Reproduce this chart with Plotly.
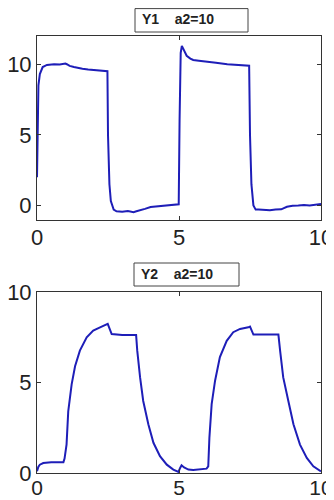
import plotly.graph_objects as go

# ---- data ----
t1 = [0, 0.02, 0.05, 0.1, 0.2, 0.35, 0.6, 0.8, 0.95, 1.0, 1.05, 1.15, 1.3, 1.45, 1.6, 1.8, 2.0, 2.2, 2.35, 2.48,
      2.5, 2.55, 2.6, 2.7, 2.8, 3.0, 3.2, 3.4, 3.5, 3.6, 3.8, 4.0, 4.2, 4.4, 4.6, 4.8, 4.99,
      5.02, 5.06, 5.1, 5.18, 5.27, 5.4, 5.5, 5.7, 6.0, 6.3, 6.7, 7.0, 7.2, 7.47,
      7.5, 7.55, 7.62, 7.7, 7.8, 8.0, 8.2, 8.4, 8.6, 8.8, 9.0, 9.2, 9.4, 9.6, 9.8, 10.0]
y1 = [2.0, 6.0, 8.5, 9.3, 9.8, 9.95, 10.0, 9.98, 10.02, 10.05, 10.0, 9.88, 9.8, 9.72, 9.68, 9.62, 9.6, 9.55, 9.55, 9.5,
      5.0, 1.5, 0.3, -0.3, -0.42, -0.45, -0.4, -0.48, -0.42, -0.38, -0.25, -0.12, -0.08, -0.05, 0.0, 0.02, 0.08,
      6.0, 10.8, 11.3, 11.0, 10.6, 10.4, 10.3, 10.25, 10.2, 10.1, 10.0, 9.95, 9.92, 9.9,
      5.0, 1.5, 0.0, -0.3, -0.3, -0.32, -0.35, -0.3, -0.28, -0.1, -0.02, 0.0, 0.03, 0.0, 0.05, 0.1]

t2 = [0, 0.05, 0.1, 0.22, 0.5, 0.93, 0.97, 1.04, 1.1, 1.22, 1.34, 1.51, 1.75, 1.98, 2.22, 2.45, 2.49,
      2.63, 3.0, 3.49, 3.53, 3.63, 3.74, 3.92, 4.1, 4.33, 4.57, 4.8, 4.98,
      5.04, 5.09, 5.18, 5.33, 5.5, 5.97, 6.03, 6.07, 6.15, 6.27, 6.44, 6.68, 6.91, 7.15, 7.44, 7.5,
      7.62, 8.0, 8.5, 8.56, 8.67, 8.85, 9.03, 9.26, 9.5, 9.73, 10.0]
y2 = [0.1, 0.35, 0.46, 0.55, 0.6, 0.6, 0.8, 1.57, 3.4, 4.9, 5.9, 6.76, 7.5, 7.87, 8.05, 8.2, 8.24,
      7.68, 7.62, 7.62, 6.76, 5.28, 3.98, 2.69, 1.67, 0.93, 0.46, 0.19, 0.06,
      0.28, 0.43, 0.31, 0.19, 0.17, 0.24, 0.37, 1.94, 3.8, 5.1, 6.4, 7.3, 7.78, 7.96, 8.05, 8.09,
      7.65, 7.65, 7.65, 6.76, 5.28, 3.98, 2.69, 1.57, 0.83, 0.37, 0.09]

titles = ["Y1    a2=10", "Y2    a2=10"]
x_ticks = [0, 5, 10]
y1_ticks = [0, 5, 10]
y2_ticks = [0, 5, 10]

W, H = 334, 500
OFF = 8  # page body margin offset
LINE = "#1e1eb8"
FONT = "Liberation Sans, Arial, sans-serif"

def px_x(p):
    return (p - OFF) / W

def px_y(p):
    return 1 - (p - OFF) / H

fig = go.Figure()
fig.add_trace(go.Scatter(x=t1, y=y1, mode="lines", line=dict(color=LINE, width=2),
                         xaxis="x", yaxis="y", showlegend=False))
fig.add_trace(go.Scatter(x=t2, y=y2, mode="lines", line=dict(color=LINE, width=2),
                         xaxis="x2", yaxis="y2", showlegend=False))

ax_common = dict(showgrid=False, zeroline=False, showline=True, linecolor="#333", linewidth=1,
                 mirror="ticks", ticks="inside", ticklen=4, tickcolor="#333", automargin=False)
tick_font = dict(family=FONT, size=22, color="#222")
bottom_font = dict(family=FONT, size=21, color="#222")

fig.update_layout(
    width=W, height=H,
    margin=dict(l=0, r=0, t=0, b=0),
    paper_bgcolor="white", plot_bgcolor="white",
    xaxis=dict(domain=[px_x(37), px_x(321)], range=[0, 10], tickvals=x_ticks, anchor="y",
               ticklabelstandoff=-2, tickfont=tick_font, **ax_common),
    yaxis=dict(domain=[px_y(219.5), px_y(36)], range=[-1, 12], tickvals=y1_ticks, anchor="x",
               tickfont=tick_font, **ax_common),
    xaxis2=dict(domain=[px_x(37), px_x(321)], range=[0, 10], tickvals=x_ticks, anchor="y2",
                ticklabelstandoff=-4, tickfont=bottom_font, **ax_common),
    yaxis2=dict(domain=[px_y(473), px_y(292)], range=[0, 10], tickvals=y2_ticks, anchor="x2",
                tickfont=tick_font, **ax_common),
)

# (box left, box right, box top, box bottom, text centre y) in reference pixels
boxes = [(135, 248, 8.6, 32, 18.5), (134, 239, 263, 286, 274)]
for (x0, x1, y0, y1b, yc), title in zip(boxes, titles):
    fig.add_shape(type="rect", xref="paper", yref="paper",
                  x0=px_x(x0), x1=px_x(x1), y0=px_y(y1b), y1=px_y(y0),
                  line=dict(color="#444", width=1), fillcolor="white")
    fig.add_annotation(xref="paper", yref="paper", x=px_x(x0 + 5), y=px_y(yc),
                       xanchor="left", yanchor="middle", text="<b>" + title + "</b>", showarrow=False,
                       font=dict(family=FONT, size=14, color="#222"))

fig.write_html("out.html")
